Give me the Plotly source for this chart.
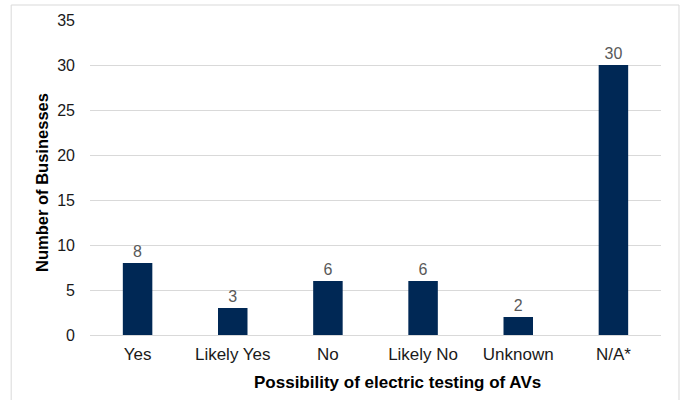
import plotly.graph_objects as go

categories = ["Yes", "Likely Yes", "No", "Likely No", "Unknown", "N/A*"]
businesses = [8, 3, 6, 6, 2, 30]
y_ticks = [0, 5, 10, 15, 20, 25, 30, 35]

navy = "#002855"
font_family = "Liberation Sans, Arial, sans-serif"

fig = go.Figure(
    go.Bar(
        x=categories,
        y=businesses,
        marker=dict(color=navy, line=dict(width=0)),
        text=[str(v) for v in businesses],
        textposition="outside",
        textfont=dict(color="#595959", size=16, family=font_family),
        cliponaxis=False,
        width=0.31,
    )
)

fig.update_layout(
    width=681,
    height=400,
    margin=dict(l=90, r=20, t=20, b=65),
    paper_bgcolor="white",
    plot_bgcolor="white",
    showlegend=False,
    font=dict(family=font_family, color="#1a1a1a", size=16),
    xaxis=dict(
        showline=False,
        ticks="",
        ticklabelstandoff=7,
        tickfont=dict(size=17, color="#1a1a1a"),
        showgrid=False,
    ),
    yaxis=dict(
        range=[0, 35],
        tickvals=y_ticks,
        showgrid=True,
        gridcolor="#d9d9d9",
        gridwidth=1,
        zeroline=True,
        zerolinecolor="#d9d9d9",
        zerolinewidth=1,
        ticks="",
        ticklen=0,
        ticklabelstandoff=14,
        tickfont=dict(size=16, color="#1a1a1a"),
    ),
    annotations=[
        dict(
            text="<b>Possibility of electric testing of AVs</b>",
            xref="paper",
            yref="paper",
            x=0.539,
            y=-0.152,
            xanchor="center",
            yanchor="middle",
            showarrow=False,
            font=dict(size=17, color="#000000"),
        ),
        dict(
            text="<b>Number of Businesses</b>",
            xref="paper",
            yref="paper",
            x=-0.084,
            y=0.483,
            xanchor="center",
            yanchor="middle",
            textangle=-90,
            showarrow=False,
            font=dict(size=16.5, color="#000000"),
        ),
    ],
    shapes=[
        dict(
            type="rect",
            xref="paper",
            yref="paper",
            x0=-0.138,
            x1=1.0315,
            y0=-0.22,
            y1=1.0476,
            line=dict(color="#d9d9d9", width=1),
            fillcolor="rgba(0,0,0,0)",
            layer="below",
        )
    ],
)

fig.write_html("out.html")
